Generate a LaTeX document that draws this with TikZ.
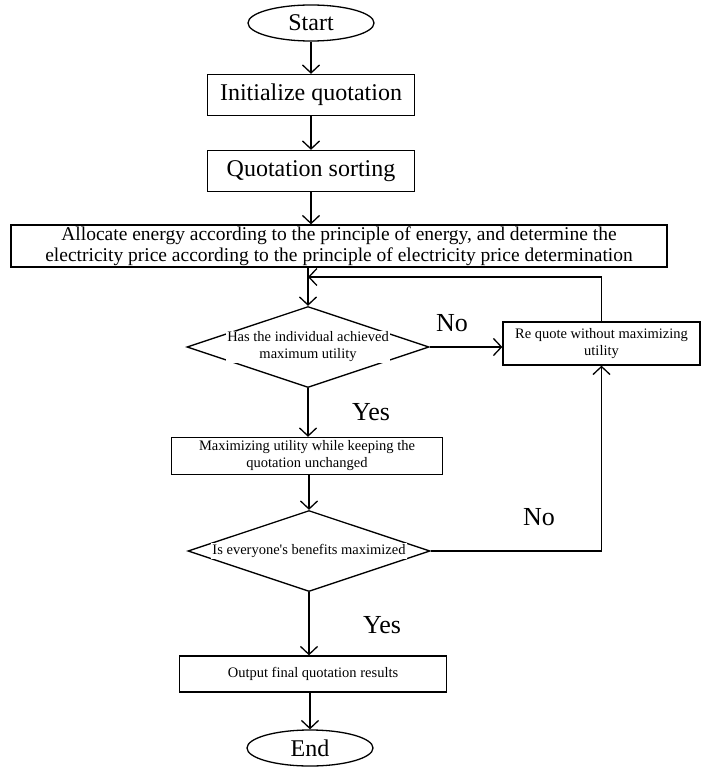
\documentclass[tikz,border=0pt]{standalone}
\usepackage{fontspec}
\setmainfont{Liberation Serif}
\usetikzlibrary{shapes.geometric,arrows.meta}
\begin{document}
\begin{tikzpicture}[x=1pt,y=-1pt,
  lw/.style={line width=1.3pt},
  arr/.style={lw,-{Straight Barb[length=8pt,width=17pt,line width=1.3pt]}},
  proc/.style={draw,lw,rectangle,inner sep=0pt,align=center},
  bigtxt/.style={font=\fontsize{24}{27}\selectfont},
  midtxt/.style={font=\fontsize{19.5}{21.5}\selectfont},
  smalltxt/.style={font=\fontsize{14.5}{17}\selectfont},
  term/.style={draw,lw,ellipse,minimum width=126pt,minimum height=36pt,inner sep=0pt,bigtxt},
  decision/.style={draw,lw,diamond,minimum width=242pt,minimum height=81pt,inner sep=0pt},
  dectext/.style={fill=white,inner sep=1pt,align=center,smalltxt},
  lbl/.style={inner sep=0pt,font=\fontsize{26}{30}\selectfont}
]
\useasboundingbox (0,0) rectangle (702,767);

% main column
\node[term] (start) at (311,23) {Start};
\node[proc,bigtxt,minimum width=207pt,minimum height=41pt] (init) at (311,95) {Initialize quotation};
\node[proc,bigtxt,minimum width=207pt,minimum height=41pt] (sort) at (311,171) {Quotation sorting};
\node[proc,midtxt,minimum width=656pt,minimum height=42pt] (alloc) at (339,246)
  {Allocate energy according to the principle of energy, and determine the\\
   electricity price according to the principle of electricity price determination};
\node[decision] (d1) at (308,347) {};
\node[dectext] (d1t) at (d1.center) {Has the individual achieved\\maximum utility};
\node[proc,smalltxt,minimum width=197pt,minimum height=43pt] (rq) at (601.5,343.5)
  {Re quote without maximizing\\utility};
\node[proc,smalltxt,minimum width=271pt,minimum height=37pt] (maxu) at (307,456)
  {Maximizing utility while keeping the\\quotation unchanged};
\node[decision] (d2) at (309,551) {};
\node[dectext] (d2t) at (d2.center) {Is everyone\textquotesingle s benefits maximized};
\node[proc,smalltxt,minimum width=267pt,minimum height=36pt] (out) at (313,674)
  {Output final quotation results};
\node[term] (end) at (310,748) {End};

% branch labels
\node[lbl] (no1) at (452,323) {No};
\node[lbl] (yes1) at (371,412) {Yes};
\node[lbl] (no2) at (539,517) {No};
\node[lbl] (yes2) at (382,625) {Yes};

% connectors
\coordinate (j) at (308,277);
\draw[arr] (start) -- (init);
\draw[arr] (init) -- (sort);
\draw[arr] (sort.south) -- (sort.south |- alloc.north);
\draw[arr] (alloc.south -| d1.north) -- (d1.north);
\draw[arr] (d1.east) -- (d1.east -| rq.west);
\draw[arr] (rq.north) |- (j);
\draw[arr] (d1.south) -- (d1.south |- maxu.north);
\draw[arr] (maxu.south -| d2.north) -- (d2.north);
\draw[arr] (d2.east) -| (rq.south);
\draw[arr] (d2.south) -- (d2.south |- out.north);
\draw[arr] (out.south -| end.north) -- (end.north);
\end{tikzpicture}
\end{document}
